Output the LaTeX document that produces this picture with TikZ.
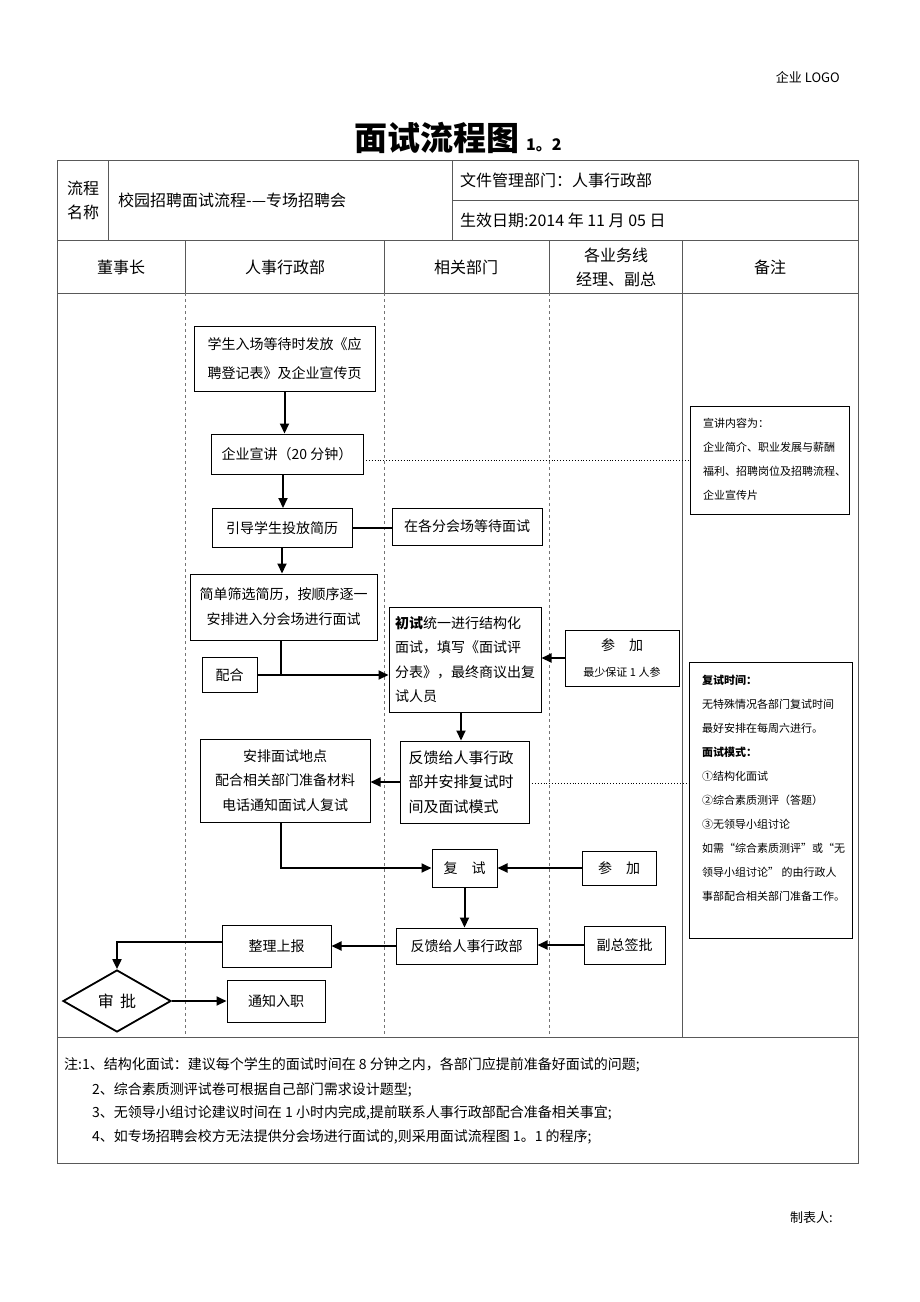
\documentclass[tikz,border=0pt]{standalone}
\usepackage{fontspec}
\setmainfont{Noto Sans CJK SC}
\usetikzlibrary{arrows.meta,shapes.geometric}
\newcommand{\fsz}[2]{\fontsize{#1}{#2}\selectfont}
\begin{document}
\begin{tikzpicture}[x=1pt,y=-1pt,
  tbl/.style={draw=black!65, line width=0.9pt},
  lane/.style={draw=black!55, line width=0.8pt, dash pattern=on 3pt off 3pt},
  box/.style={draw=black, line width=1pt, inner sep=2pt, align=center, font=\fsz{14}{25}},
  note/.style={draw=black, line width=1pt, inner sep=0pt, anchor=north west},
  conn/.style={draw=black, line width=2pt},
  arr/.style={conn, -{Triangle[length=10pt,width=9pt]}},
  dot/.style={draw=black, line width=0.9pt, dotted},
  hd/.style={font=\fsz{16}{24}, align=center, inner sep=0pt}
]
\useasboundingbox (0,0) rectangle (920,1302);
\fill[white] (0,0) rectangle (920,1302);

% header texts
\node[anchor=base east, font=\fsz{13}{16}, inner sep=0] (logo) at (840,82) {企业 LOGO};
\node[anchor=base west, font=\bfseries\fsz{33}{36}, inner sep=0] (title) at (354,150) {面试流程图};
\node[anchor=base west, font=\bfseries\fsz{16}{18}, inner sep=0] (titlenum) at (526,150) {1。2};

% table frame
\draw[tbl] (57,160) rectangle (858,1163);
\draw[tbl] (57,240) -- (858,240);
\draw[tbl] (57,293) -- (858,293);
\draw[tbl] (57,1037) -- (858,1037);
\draw[tbl] (108,160) -- (108,240);
\draw[tbl] (452,160) -- (452,240);
\draw[tbl] (452,200) -- (858,200);
\foreach \x in {185,384,549,682} \draw[tbl] (\x,240) -- (\x,293);
\foreach \x in {185,384,549} \draw[lane] (\x,293) -- (\x,1037);
\draw[tbl] (682,293) -- (682,1037);

% table texts
\node[hd] (lc) at (83,200) {流程\\名称};
\node[hd, anchor=west] (pname) at (118,200) {校园招聘面试流程-—专场招聘会};
\node[hd, anchor=west] (dept) at (460,180) {文件管理部门：人事行政部};
\node[hd, anchor=west] (date) at (460,220) {生效日期:2014 年 11 月 05 日};
\node[hd] (h1) at (121,267) {董事长};
\node[hd] (h2) at (285,267) {人事行政部};
\node[hd] (h3) at (466,267) {相关部门};
\node[hd] (h4) at (616,267) {各业务线\\经理、副总};
\node[hd] (h5) at (770,267) {备注};

% flow boxes
\node[box, minimum width=181pt, minimum height=65pt, font=\fsz{14}{29}] (b1) at (284.5,358.5) {学生入场等待时发放《应\\聘登记表》及企业宣传页};
\node[box, minimum width=152pt, minimum height=40pt] (b2) at (287,454) {企业宣讲（20 分钟）};
\node[box, minimum width=140pt, minimum height=39pt] (b3) at (282,528) {引导学生投放简历};
\node[box, minimum width=150pt, minimum height=37pt] (b4) at (467,526.5) {在各分会场等待面试};
\node[box, minimum width=187pt, minimum height=66pt] (b5) at (283.5,607) {简单筛选简历，按顺序逐一\\安排进入分会场进行面试};
\node[box, minimum width=55pt, minimum height=35pt] (b6) at (229.5,675) {配合};
\node[box, minimum width=152pt, minimum height=105pt, align=left, text width=140pt, font=\fsz{14}{24.5}] (b7) at (465,659.5) {\textbf{初试}统一进行结构化\\面试，填写《面试评\\分表》，最终商议出复\\试人员};
\node[box, minimum width=114pt, minimum height=56pt, font=\fsz{14}{26}] (b8) at (622,658) {参\hspace{1em}加\\{\fsz{11}{14}最少保证 1 人参}};
\node[box, minimum width=170pt, minimum height=83pt, font=\fsz{14}{24.5}] (b9) at (285,780.5) {安排面试地点\\配合相关部门准备材料\\电话通知面试人复试};
\node[box, minimum width=129pt, minimum height=82pt, align=left, text width=112pt, font=\fsz{15}{24.5}] (b10) at (464.5,782) {反馈给人事行政\\部并安排复试时\\间及面试模式};
\node[box, minimum width=65pt, minimum height=38pt] (b11) at (464.5,868) {复\hspace{1em}试};
\node[box, minimum width=74pt, minimum height=34pt] (b12) at (619,868) {参\hspace{1em}加};
\node[box, minimum width=141pt, minimum height=36pt] (b13) at (466.5,946) {反馈给人事行政部};
\node[box, minimum width=81pt, minimum height=38pt] (b14) at (624.5,945) {副总签批};
\node[box, minimum width=109pt, minimum height=42pt] (b15) at (276.5,946) {整理上报};
\node[draw=black, line width=1.8pt, shape=diamond, minimum width=108pt, minimum height=62pt, inner sep=0pt, font=\fsz{16}{18}] (d) at (117,1001) {审\hspace{0.4em}批};
\node[box, minimum width=98pt, minimum height=42pt] (b16) at (276,1001) {通知入职};

% remark notes
\node[note, minimum width=159pt, minimum height=108pt] (n1) at (690,406) {};
\node[anchor=north west, align=left, inner sep=0pt, font=\fsz{11}{24}] (n1t) at (703,418) {宣讲内容为：\\企业简介、职业发展与薪酬\\福利、招聘岗位及招聘流程、\\企业宣传片};
\node[note, minimum width=163pt, minimum height=276pt] (n2) at (689,662) {};
\node[anchor=north west, align=left, inner sep=0pt, font=\fsz{11}{24}] (n2t) at (702,675) {\textbf{复试时间：}\\无特殊情况各部门复试时间\\最好安排在每周六进行。\\\textbf{面试模式：}\\①结构化面试\\②综合素质测评（答题）\\③无领导小组讨论\\如需“综合素质测评”或“无\\领导小组讨论” 的由行政人\\事部配合相关部门准备工作。};

% connectors
\draw[arr] (b1.south) -- (b1.south |- b2.north);
\draw[arr] (b2.south) ++(-4,0) coordinate (s2) -- (s2 |- b3.north);
\draw[arr] (b3.south) -- (b3.south |- b5.north);
\draw[conn] (b3.east) -- (b4.west |- b3.east);
\coordinate (j1) at (281,675);
\draw[conn] (b5.south -| j1) -- (j1);
\draw[arr] (b6.east) -- (b7.west |- b6.east);
\draw[arr] (b8.west) -- (b7.east |- b8.west);
\draw[arr] (b7.south) ++(-4,0) coordinate (s7) -- (s7 |- b10.north);
\draw[arr] (b10.west) -- (b9.east |- b10.west);
\draw[arr] (b9.south) ++(-4,0) coordinate (s9) |- (b11.west);
\draw[arr] (b12.west) -- (b11.east);
\draw[arr] (b11.south) -- (b11.south |- b13.north);
\draw[arr] (b14.west) -- (b13.east |- b14.west);
\draw[arr] (b13.west) -- (b15.east |- b13.west);
\draw[arr] (b15.west) ++(0,-4) coordinate (s15) -| (d.north);
\draw[arr] (d.east) -- (b16.west);
\coordinate (d1) at (363,460);
\draw[dot] (d1) -- (n1.west |- d1);
\coordinate (d2) at (529,783);
\draw[dot] (d2) -- (n2.west |- d2);

% bottom notes
\node[anchor=base west, inner sep=0pt, font=\fsz{14}{16}] (t1) at (64,1069) {注:1、结构化面试：建议每个学生的面试时间在 8 分钟之内，各部门应提前准备好面试的问题;};
\node[anchor=base west, inner sep=0pt, font=\fsz{14}{16}] (t2) at (92,1094) {2、综合素质测评试卷可根据自己部门需求设计题型;};
\node[anchor=base west, inner sep=0pt, font=\fsz{14}{16}] (t3) at (92,1117) {3、无领导小组讨论建议时间在 1 小时内完成,提前联系人事行政部配合准备相关事宜;};
\node[anchor=base west, inner sep=0pt, font=\fsz{14}{16}] (t4) at (92,1141) {4、如专场招聘会校方无法提供分会场进行面试的,则采用面试流程图 1。1 的程序;};
\node[anchor=base west, inner sep=0pt, font=\fsz{13}{16}] (maker) at (790,1222) {制表人:};
\end{tikzpicture}
\end{document}
